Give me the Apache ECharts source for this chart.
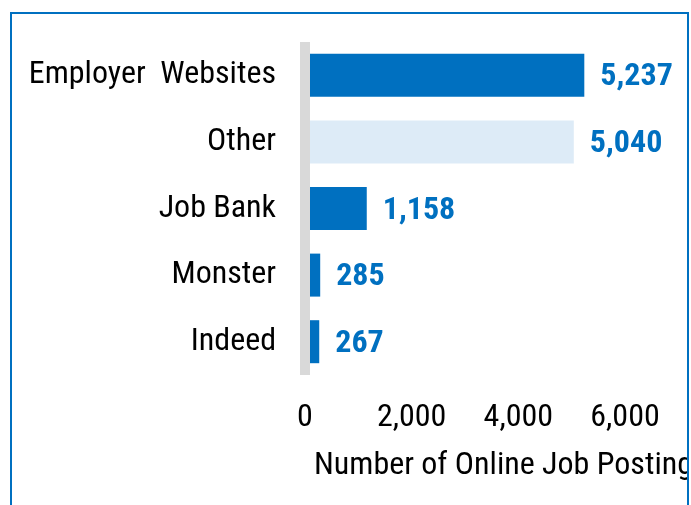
<!DOCTYPE html>
<html>
<head>
<meta charset="utf-8">
<script src="https://cdn.jsdelivr.net/npm/echarts@6/dist/echarts.min.js"></script>
<style>
html,body{margin:0;padding:0;background:#fff;}
#chart{width:691px;height:505px;}
</style>
</head>
<body>
<div id="chart"></div>
<script>
const categories = ['Employer  Websites', 'Other', 'Job Bank', 'Monster', 'Indeed'];
const postings = [5237, 5040, 1158, 285, 267];
const xTicks = [0, 2000, 4000, 6000];
const axisTitle = 'Number of Online Job Postings';

const FONT = "'Roboto Condensed', Roboto, sans-serif";
const FS = 32;
const BLUE = '#0070C0';
const LIGHT = '#DDEBF7';
const fmt = v => Number(v).toLocaleString('en-US');

const chart = echarts.init(document.getElementById('chart'), null, {renderer: 'canvas'});
chart.setOption({
  backgroundColor: '#ffffff',
  animation: false,
  title: {
    text: axisTitle,
    left: 309,
    top: 445,
    textStyle: {fontFamily: FONT, fontSize: FS, fontWeight: 'normal', color: '#000'}
  },
  grid: {left: 305, right: 66, top: 42, bottom: 130, containLabel: false, outerBoundsMode: 'none'},
  xAxis: {
    type: 'value',
    min: xTicks[0],
    max: xTicks[xTicks.length - 1],
    interval: xTicks[1] - xTicks[0],
    axisLine: {show: false},
    axisTick: {show: false},
    splitLine: {show: false},
    axisLabel: {
      margin: 27,
      fontFamily: FONT, fontSize: FS, color: '#000',
      formatter: v => fmt(v)
    }
  },
  yAxis: {
    type: 'category',
    data: categories,
    inverse: true,
    z: 5,
    axisLine: {show: true, lineStyle: {color: '#D9D9D9', width: 10, cap: 'butt'}},
    axisTick: {show: false},
    axisLabel: {margin: 29, fontFamily: FONT, fontSize: FS, color: '#000', padding: [4, 0, 0, 0]}
  },
  series: [{
    type: 'bar',
    data: postings,
    barWidth: 43,
    itemStyle: {
      color: p => (p.name === 'Other' ? LIGHT : BLUE)
    },
    label: {
      show: true,
      position: 'right',
      distance: 16,
      offset: [0, 2],
      fontFamily: FONT,
      fontSize: FS,
      fontWeight: 'bold',
      color: BLUE,
      formatter: p => fmt(p.value)
    }
  }],
  graphic: [
    {type: 'rect', z: 100, shape: {x: 689, y: 0, width: 10, height: 505}, style: {fill: '#fff'}},
    {type: 'rect', z: 101, shape: {x: 11, y: 13, width: 677, height: 600}, style: {fill: null, stroke: BLUE, lineWidth: 2}}
  ]
});
</script>
</body>
</html>
